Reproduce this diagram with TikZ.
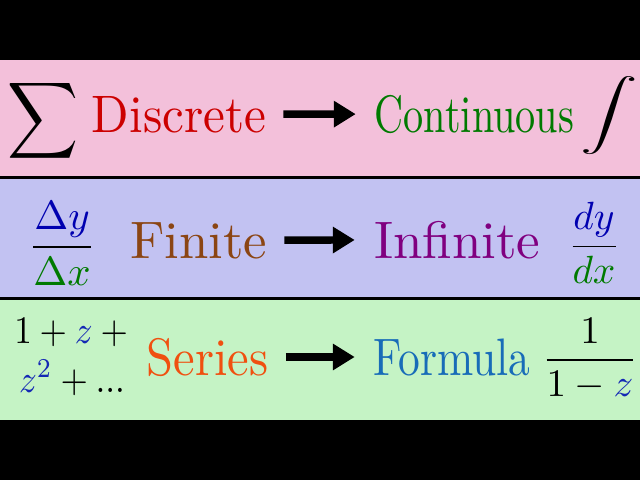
\documentclass[tikz,border=0pt]{standalone}
\usetikzlibrary{arrows.meta}

\definecolor{bandpink}{RGB}{243,192,218}
\definecolor{bandblue}{RGB}{194,194,242}
\definecolor{bandgreen}{RGB}{197,243,197}
\definecolor{discred}{RGB}{204,0,0}
\definecolor{contgreen}{RGB}{0,122,0}
\definecolor{finbrown}{RGB}{139,69,19}
\definecolor{infpurple}{RGB}{128,0,128}
\definecolor{serorange}{RGB}{240,80,16}
\definecolor{formblue}{RGB}{24,108,184}
\definecolor{zblue}{RGB}{20,40,180}
\definecolor{dyblue}{RGB}{0,0,176}

\begin{document}
\begin{tikzpicture}[
            x=0.025cm, y=-0.025cm,
            word/.style={
                inner sep=0pt,
                anchor=base west,
                yscale=3.75
            },
            sym/.style={
                inner sep=0pt
            },
            conv/.style={
                line width=5.3pt,
                -{Triangle[length=15.6pt, width=18pt]},
                shorten <=11.5pt,
                shorten >=13pt
            }
        ]

            \useasboundingbox (0,0) rectangle (640,480);
            \fill[black] (0,0) rectangle (640,480);
            \fill[bandpink] (0,60) rectangle (640,175.5);
            \fill[bandblue] (0,178.5) rectangle (640,297);
            \fill[bandgreen] (0,300) rectangle (640,419.5);

            \node[sym, xscale=3.5, yscale=3.8] (sum) at (43,121) {$\displaystyle\sum$};
            \node[word, xscale=3.49, text=discred] (discrete) at (91,132) {Discrete};
            \node[word, xscale=2.86, text=contgreen] (continuous) at (374,132) {Continuous};
            \node[sym, xscale=4.1, yscale=2.5] (integral) at (609,116) {$\displaystyle\int$};

            \node[sym, scale=2.9] (diffquot) at (62,243.5)
                {$\displaystyle\frac{\color{dyblue}\Delta y}{\color{contgreen}\Delta x}$};
            \node[word, xscale=3.75, text=finbrown] (finite) at (129,258) {Finite};
            \node[word, xscale=3.77, text=infpurple] (infinite) at (373,258) {Infinite};
            \node[sym, scale=2.8] (deriv) at (594,243)
                {$\displaystyle\frac{\color{dyblue}dy}{\color{contgreen}dx}$};

            \node[sym, anchor=base, xscale=2.5, yscale=2.77] (powerA) at (75,343) {$1+{\color{zblue}z}+{}$};
            \node[sym, anchor=base, xscale=2.5, yscale=2.77] (powerB) at (72,392) {${\color{zblue}z^2}+...$};
            \node[word, xscale=3.45, text=serorange] (series) at (146,375) {Series};
            \node[word, xscale=3.09, text=formblue] (formula) at (373,375) {Formula};
            \node[sym, scale=2.77] (closed) at (590,359)
                {$\displaystyle\frac{1}{1-{\color{zblue}z}}$};

            \draw[conv] (discrete) -- (continuous);
            \draw[conv] (finite) -- (infinite);
            \draw[conv] (series) -- (formula);

        \end{tikzpicture}
\end{document}
